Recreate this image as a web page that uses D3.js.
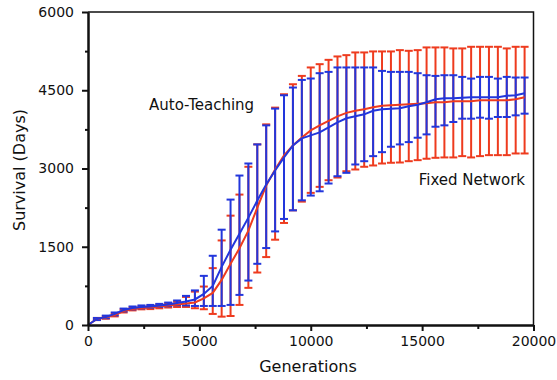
<!DOCTYPE html>
<html>
<head>
<meta charset="utf-8">
<script src="https://cdn.jsdelivr.net/npm/d3@7"></script>
<style>
  body { margin: 0; background: #fff; }
  svg text { font-family: "DejaVu Sans", sans-serif; fill: #111; }
</style>
</head>
<body>
<svg></svg>
<script>
let w = 557;
let h = 380;

const generations = [0, 400, 800, 1200, 1600, 2000, 2400, 2800, 3200, 3600,
  4000, 4400, 4800, 5200, 5600, 6000, 6400, 6800, 7200, 7600,
  8000, 8400, 8800, 9200, 9600, 10000, 10400, 10800, 11200, 11600,
  12000, 12400, 12800, 13200, 13600, 14000, 14400, 14800, 15200, 15600,
  16000, 16400, 16800, 17200, 17600, 18000, 18400, 18800, 19200, 19600];

// Fixed Network (red)
const fixedMean = [0, 115, 144, 192, 269, 308, 327, 337, 356, 375,
  394, 413, 433, 510, 615, 865, 1173, 1471, 1808, 2250,
  2673, 2981, 3250, 3442, 3596, 3731, 3827, 3913, 4000, 4067,
  4106, 4135, 4173, 4202, 4212, 4221, 4231, 4240, 4250, 4269,
  4269, 4288, 4288, 4288, 4308, 4308, 4308, 4308, 4327, 4365];
const fixedLow = [0, 95, 120, 165, 240, 280, 300, 305, 320, 335,
  345, 346, 321, 302, 212, 160, 173, 385, 712, 1006,
  1302, 1635, 1956, 2198, 2365, 2533, 2648, 2775, 2827, 2948,
  2981, 3033, 3058, 3096, 3110, 3115, 3140, 3160, 3187, 3205,
  3212, 3212, 3237, 3212, 3237, 3256, 3256, 3256, 3288, 3288];
const fixedHigh = [0, 135, 170, 220, 300, 335, 355, 370, 390, 415,
  445, 538, 640, 737, 1090, 1621, 2096, 2500, 3033, 3462,
  3846, 4167, 4423, 4615, 4775, 4937, 5000, 5083, 5148, 5173,
  5225, 5225, 5244, 5244, 5244, 5269, 5256, 5269, 5321, 5321,
  5321, 5302, 5302, 5333, 5333, 5333, 5333, 5302, 5333, 5333];

// Auto-Teaching (blue)
const autoMean = [0, 115, 154, 212, 288, 327, 346, 356, 375, 394,
  423, 452, 490, 596, 750, 1115, 1442, 1750, 2058, 2385,
  2692, 2962, 3212, 3442, 3577, 3635, 3692, 3788, 3885, 3962,
  4000, 4038, 4106, 4135, 4144, 4154, 4192, 4221, 4269, 4327,
  4346, 4346, 4356, 4365, 4365, 4365, 4365, 4394, 4404, 4442];
const autoLow = [0, 95, 130, 185, 260, 300, 320, 330, 345, 360,
  380, 375, 365, 365, 365, 365, 385, 577, 852, 1173,
  1475, 1794, 2033, 2198, 2390, 2481, 2563, 2712, 2852, 2917,
  3077, 3140, 3237, 3313, 3417, 3462, 3506, 3590, 3654, 3801,
  3827, 3891, 3955, 3955, 3974, 3955, 3987, 3987, 4019, 4051];
const autoHigh = [0, 135, 180, 240, 315, 355, 375, 385, 405, 430,
  470, 558, 663, 942, 1327, 1827, 2404, 2865, 3096, 3462,
  3827, 4148, 4404, 4552, 4698, 4725, 4827, 4852, 4937, 4937,
  4937, 4937, 4937, 4871, 4852, 4852, 4852, 4827, 4788, 4775,
  4788, 4788, 4756, 4724, 4756, 4756, 4724, 4756, 4744, 4744];

const xTicks = [0, 5000, 10000, 15000, 20000];
const xMinor = [2500, 7500, 12500, 17500];
const yTicks = [0, 1500, 3000, 4500, 6000];
const yMinor = [750, 2250, 3750, 5250];

const red = '#ee3b1e';
const blue = '#2236dc';

const svg = d3.select('svg')
  .attr('width', w)
  .attr('height', h)

const xScale = d3.scaleLinear().domain([0, 20000]).range([88, 533.5])
const yScale = d3.scaleLinear().domain([0, 6000]).range([325, 12])

const fixed = generations.map((g, i) => ({g, m: fixedMean[i], lo: fixedLow[i], hi: fixedHigh[i]}))
const auto = generations.map((g, i) => ({g, m: autoMean[i], lo: autoLow[i], hi: autoHigh[i]}))

// frame (top, right)
svg.append('path')
  .attr('d', `M${xScale(0)},${yScale(6000)}H${xScale(20000)}V${yScale(0)}`)
  .attr('fill', 'none')
  .attr('stroke', '#111')
  .attr('stroke-width', 1.5)

// Error bars
function errorBars(data, color, cls) {
  const g = svg.append('g').attr('class', cls)
    .attr('stroke', color)
    .attr('stroke-width', 2)
    .attr('fill', 'none')
  const bars = data.filter(d => d.hi > d.lo)
  g.selectAll('line.v').data(bars).enter().append('line')
    .attr('class', 'v')
    .attr('x1', d => xScale(d.g)).attr('x2', d => xScale(d.g))
    .attr('y1', d => yScale(d.lo)).attr('y2', d => yScale(d.hi))
  g.selectAll('line.top').data(bars).enter().append('line')
    .attr('class', 'top')
    .attr('x1', d => xScale(d.g) - 4).attr('x2', d => xScale(d.g) + 4)
    .attr('y1', d => yScale(d.hi)).attr('y2', d => yScale(d.hi))
  g.selectAll('line.bot').data(bars).enter().append('line')
    .attr('class', 'bot')
    .attr('x1', d => xScale(d.g) - 4).attr('x2', d => xScale(d.g) + 4)
    .attr('y1', d => yScale(d.lo)).attr('y2', d => yScale(d.lo))
}

errorBars(fixed, red, 'fixed-bars')
errorBars(auto, blue, 'auto-bars')

const line = d3.line()
  .x(d => xScale(d.g))
  .y(d => yScale(d.m))

svg.append('path')
  .datum(fixed)
  .attr('d', line)
  .attr('fill', 'none')
  .attr('stroke', red)
  .attr('stroke-width', 2)

svg.append('path')
  .datum(auto)
  .attr('d', line)
  .attr('fill', 'none')
  .attr('stroke', blue)
  .attr('stroke-width', 2)

// Axes
const fmt = d3.format('d')
const xAxis = d3.axisBottom(xScale).tickValues(xTicks).tickFormat(fmt).tickSize(6).tickSizeOuter(0).tickPadding(5)
const xAxisMinor = d3.axisBottom(xScale).tickValues(xMinor).tickSize(4).tickSizeOuter(0).tickFormat('')
const yAxis = d3.axisLeft(yScale).tickValues(yTicks).tickFormat(fmt).tickSize(6).tickSizeOuter(0).tickPadding(8)
const yAxisMinor = d3.axisLeft(yScale).tickValues(yMinor).tickSize(3).tickSizeOuter(0).tickFormat('')

function styleAxis(g) {
  g.selectAll('path, line').attr('stroke', '#111').attr('stroke-width', 2)
  g.selectAll('text').style('font-size', '14px').attr('fill', '#111')
}

svg.append('g')
  .attr('transform', 'translate(0,' + yScale(0) + ')')
  .call(xAxisMinor).call(styleAxis)
svg.append('g')
  .attr('transform', 'translate(0,' + yScale(0) + ')')
  .attr('id', 'x-axis')
  .call(xAxis).call(styleAxis)

svg.append('g')
  .attr('transform', 'translate(' + xScale(0) + ',0)')
  .call(yAxisMinor).call(styleAxis)
svg.append('g')
  .attr('transform', 'translate(' + xScale(0) + ',0)')
  .attr('id', 'y-axis')
  .call(yAxis).call(styleAxis)

// Titles
svg.append('text')
  .attr('x', 308)
  .attr('y', 372)
  .attr('text-anchor', 'middle')
  .style('font-size', '16px')
  .text('Generations')

svg.append('text')
  .attr('transform', 'translate(25,170) rotate(-90)')
  .attr('text-anchor', 'middle')
  .style('font-size', '16px')
  .text('Survival (Days)')

svg.append('text')
  .attr('x', 149)
  .attr('y', 110)
  .style('font-size', '15px')
  .text('Auto-Teaching')

svg.append('text')
  .attr('x', 525)
  .attr('y', 185)
  .attr('text-anchor', 'end')
  .style('font-size', '15px')
  .text('Fixed Network')
</script>
</body>
</html>
